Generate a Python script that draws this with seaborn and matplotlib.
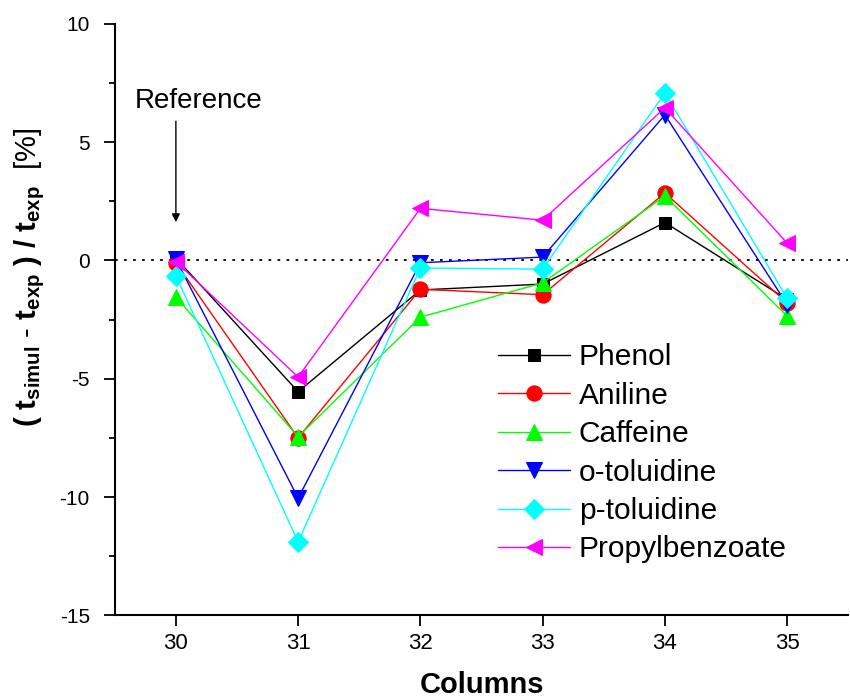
import matplotlib
matplotlib.use("Agg")
import matplotlib.pyplot as plt
import seaborn as sns
import pandas as pd
from matplotlib.ticker import MultipleLocator

columns = [30, 31, 32, 33, 34, 35]
phenol = [0.1, -5.55, -1.25, -1.0, 1.6, -1.65]
aniline = [-0.1, -7.5, -1.22, -1.45, 2.85, -1.8]
caffeine = [-1.55, -7.45, -2.4, -0.95, 2.72, -2.35]
o_toluidine = [0.05, -10.05, -0.1, 0.14, 6.15, -1.87]
p_toluidine = [-0.65, -11.9, -0.32, -0.37, 7.08, -1.6]
propylbenzoate = [-0.05, -4.93, 2.2, 1.7, 6.45, 0.73]

names = ["Phenol", "Aniline", "Caffeine", "o-toluidine", "p-toluidine", "Propylbenzoate"]
series = [phenol, aniline, caffeine, o_toluidine, p_toluidine, propylbenzoate]
colors = ["#000000", "#ff0000", "#00ff00", "#0000ff", "#00ffff", "#ff00ff"]
markers = ["s", "o", "^", "v", "D", "<"]
msizes = [9, 11, 11, 11, 10, 11]

sns.set_style("ticks")
plt.rcParams["font.family"] = ["Liberation Sans", "DejaVu Sans"]
plt.rcParams["mathtext.fontset"] = "custom"
plt.rcParams["mathtext.rm"] = "Liberation Sans"
plt.rcParams["mathtext.bf"] = "Liberation Sans:bold"
plt.rcParams["mathtext.it"] = "Liberation Sans:italic"
plt.rcParams["axes.unicode_minus"] = False
for k in ["text.color", "axes.labelcolor", "xtick.color", "ytick.color", "axes.edgecolor"]:
    plt.rcParams[k] = "black"

fig = plt.figure(figsize=(8.5, 7), dpi=100)
ax = fig.add_axes([0.135, 0.121, 0.863, 0.845])

rows = []
for n, s in zip(names, series):
    for c, v in zip(columns, s):
        rows.append({"Columns": c, "value": v, "name": n})
df = pd.DataFrame(rows)

ax.axhline(0, color="black", linestyle=(0, (1.5, 3.5)), linewidth=1.3, zorder=1)

for n, col, m, ms in zip(names, colors, markers, msizes):
    sub = df[df["name"] == n]
    sns.lineplot(data=sub, x="Columns", y="value", color=col, marker=m,
                 markersize=ms, markeredgecolor=col, linewidth=1.0,
                 ax=ax, label=n, zorder=3)

ax.set_xlim(29.5, 35.5)
ax.set_ylim(-15, 10)
ax.xaxis.set_major_locator(MultipleLocator(1))
ax.yaxis.set_major_locator(MultipleLocator(5))
ax.yaxis.set_minor_locator(MultipleLocator(2.5))
ax.tick_params(axis="both", which="major", direction="out", length=8, width=1.3)
ax.tick_params(axis="y", which="major", pad=10, labelsize=15)
ax.tick_params(axis="x", which="major", pad=5, labelsize=16)
ax.tick_params(axis="y", which="minor", direction="out", length=4.5, width=1.3)
for sp in ["top", "right"]:
    ax.spines[sp].set_visible(False)
for sp in ["left", "bottom"]:
    ax.spines[sp].set_linewidth(1.5)

ax.set_xlabel("Columns", fontsize=21, fontweight="bold", labelpad=12)
ax.set_ylabel(r"$\mathbf{(\ t_{simul}\ }\text{-}\mathbf{\ t_{exp}\ )\ /\ t_{exp}}$  [%]",
              fontsize=21)
ax.yaxis.set_label_coords(-0.093, 0.572)

ax.annotate("", xy=(30, 1.5), xytext=(30, 6.0),
            arrowprops=dict(arrowstyle="-|>", color="black", lw=1.0, mutation_scale=12))
ax.text(29.66, 6.74, "Reference", ha="left", va="center", fontsize=20)

leg = ax.legend(loc="upper left", bbox_to_anchor=(0.5225, 0.46), frameon=False,
                fontsize=21.5, handlelength=2.4, labelspacing=0.35, handletextpad=0.3,
                borderaxespad=0, borderpad=0)

fig.savefig("out.png", dpi=100)
